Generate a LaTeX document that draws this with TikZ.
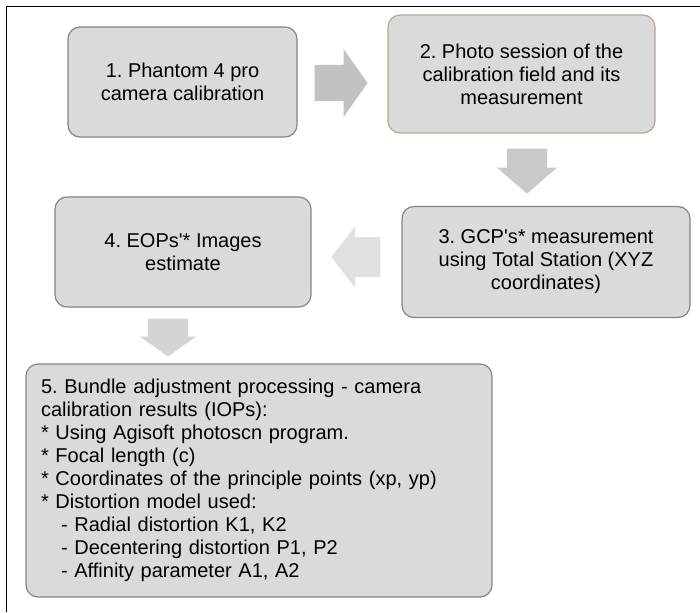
\documentclass[tikz,border=0pt]{standalone}
\usepackage{fontspec}
\setmainfont{Liberation Sans}
\usetikzlibrary{calc}
\usetikzlibrary{positioning}
\frenchspacing

\definecolor{boxfill}{RGB}{218,218,218}
\definecolor{boxline}{RGB}{132,132,132}
\definecolor{tanline}{RGB}{180,170,140}

% fat arrow: colour, tail, tip, half shaft, half head, head length
\newcommand{\blockarrow}[6]{%
  \coordinate (hb) at ($(#3)!#6!(#2)$);
  \fill[#1] ($(#2)!#4!90:(#3)$) -- ($(hb)!#4!-90:(#2)$) -- ($(hb)!#5!-90:(#2)$) -- (#3)
    -- ($(hb)!#5!90:(#2)$) -- ($(hb)!#4!90:(#2)$) -- ($(#2)!#4!-90:(#3)$) -- cycle;
}

\begin{document}
\begin{tikzpicture}[x=1pt,y=-1pt,
    stage/.style={draw=boxline, line width=1.2pt, fill=boxfill, rounded corners=12pt,
      align=center, inner sep=0pt, font=\fontsize{20}{23}\selectfont}]
        \useasboundingbox (0,0) rectangle (700,612);
        \draw[black, line width=1.5pt] (6.5,612) -- (6.5,6.5) -- (700,6.5);

        \node[stage, minimum width=229, minimum height=110] (s1) at (182.5,82)
          {1. Phantom 4 pro\\camera calibration};
        \node[stage, draw=tanline, minimum width=267, minimum height=118] (s2) at (521.5,74)
          {2. Photo session of the\\calibration field and its\\measurement};
        \node[stage, minimum width=288, minimum height=111] (s3) at (546,262)
          {3. GCP\textquotesingle s* measurement\\using Total Station (XYZ\\coordinates)};
        \node[stage, minimum width=256, minimum height=110] (s4) at (183,252)
          {4. EOPs\textquotesingle * Images\\estimate};
        \node[stage, align=left, text width=436, inner xsep=15pt, minimum height=233] (s5) at (259,480.5)
          {5. Bundle adjustment processing - camera\\calibration results (IOPs):\\
           {*} Using Agisoft photoscn program.\\
           {*} Focal length (c)\\
           {*} Coordinates of the principle points (xp, yp)\\
           {*} Distortion model used:\\
           \hspace*{20pt}- Radial distortion K1, K2\\
           \hspace*{20pt}- Decentering distortion P1, P2\\
           \hspace*{20pt}- Affinity parameter A1, A2};

        \coordinate (a12t) at ($(s1.east)+(17,1)$);
        \coordinate (a12h) at ($(s1.east)+(70,1)$);
        \coordinate (a23t) at ($(s2.south)+(5.5,15)$);
        \coordinate (a23h) at ($(s2.south)+(5.5,60)$);
        \coordinate (a34t) at ($(s3.west)+(-21,-5)$);
        \coordinate (a34h) at ($(s3.west)+(-70,-5)$);
        \coordinate (a45t) at ($(s4.south)+(-15,11)$);
        \coordinate (a45h) at ($(s4.south)+(-15,49)$);

        \blockarrow{black!24}{a12t}{a12h}{18pt}{34pt}{24pt}
        \blockarrow{black!21}{a23t}{a23h}{20pt}{30pt}{26pt}
        \blockarrow{black!12}{a34t}{a34h}{20pt}{31pt}{24pt}
        \blockarrow{black!17}{a45t}{a45h}{20pt}{28pt}{20pt}
\end{tikzpicture}
\end{document}
